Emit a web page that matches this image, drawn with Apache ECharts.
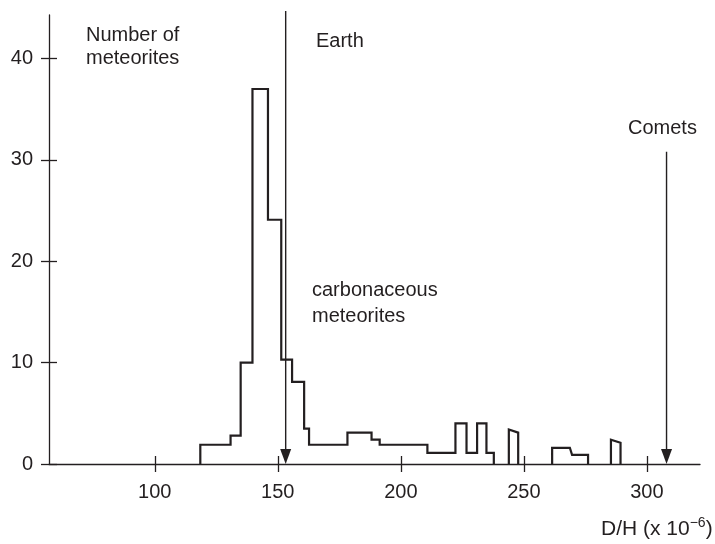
<!DOCTYPE html>
<html>
<head>
<meta charset="utf-8">
<script src="https://cdn.jsdelivr.net/npm/echarts@6/dist/echarts.min.js"></script>
<style>
html,body{margin:0;padding:0;background:#fff;}
#chart{width:715px;height:544px;}
</style>
</head>
<body>
<div id="chart"></div>
<script>
// ---- data ----
const xTicks = [100, 150, 200, 250, 300];
const yTicks = [0, 10, 20, 30, 40];
// histogram bins (D/H x 1e-6): left edge, right edge, count at left edge, count at right edge
const binLeft   = [118.5, 130.8, 134.9, 139.7, 146.0, 151.4, 155.8, 160.7, 162.7, 178.3, 188.1, 191.4, 210.8, 222.2, 226.7, 231.0, 234.8, 243.9, 261.5, 268.7, 269.6, 285.4];
const binRight  = [130.8, 134.9, 139.7, 146.0, 151.4, 155.8, 160.7, 162.7, 178.3, 188.1, 191.4, 210.8, 222.2, 226.7, 231.0, 234.8, 237.8, 247.7, 268.7, 269.6, 276.1, 289.3];
const countLeft = [1.9, 2.8, 10.0, 37.0, 24.1, 10.3, 8.1, 3.5, 1.9, 3.1, 2.4, 1.9, 1.1, 4.0, 1.1, 4.0, 1.1, 3.4, 1.6, 1.6, 0.9, 2.4];
const countRight= [1.9, 2.8, 10.0, 37.0, 24.1, 10.3, 8.1, 3.5, 1.9, 3.1, 2.4, 1.9, 1.1, 4.0, 1.1, 4.0, 1.1, 3.1, 1.6, 0.9, 0.9, 2.1];
// reference markers
const markerNames = ['Earth', 'Comets'];
const markerX     = [153.2, 308.0];
const markerTop   = [44.7, 30.8];

// ---- build outlines (groups of contiguous bins) ----
const groups = [];
let cur = null;
for (let i = 0; i < binLeft.length; i++) {
  if (!cur || Math.abs(binLeft[i] - binRight[i - 1]) > 0.01) {
    if (cur) { cur.push([binRight[i - 1], 0]); groups.push(cur); }
    cur = [[binLeft[i], 0]];
  }
  cur.push([binLeft[i], countLeft[i]]);
  cur.push([binRight[i], countRight[i]]);
}
cur.push([binRight[binRight.length - 1], 0]);
groups.push(cur);

const FONT = "'Liberation Sans', Arial, Helvetica, sans-serif";
const TXT = '#231f20';
const LINE = '#231f20';

const chart = echarts.init(document.getElementById('chart'), null, {renderer: 'canvas'});

const axisCommon = {
  type: 'value',
  splitLine: {show: false},
};

const option = {
  animation: false,
  backgroundColor: '#fff',
  grid: {left: 49, right: 15, top: 15, bottom: 80, outerBoundsMode: 'none'},
  xAxis: [
    Object.assign({}, axisCommon, {
      min: 57, max: 321.6, position: 'bottom',
      axisLine: {show: true, onZero: false, lineStyle: {color: LINE, width: 1.3}},
      axisTick: {show: true, inside: false, length: 8, customValues: xTicks, lineStyle: {color: LINE, width: 1.3}},
      axisLabel: {show: true, customValues: xTicks, margin: 18, fontSize: 20, fontFamily: FONT, color: TXT}
    }),
    Object.assign({}, axisCommon, {
      min: 57, max: 321.6, position: 'bottom', offset: 0,
      axisLine: {show: false},
      axisTick: {show: true, inside: true, length: 8, customValues: xTicks, lineStyle: {color: LINE, width: 1.3}},
      axisLabel: {show: false}
    })
  ],
  yAxis: [
    Object.assign({}, axisCommon, {
      min: 0, max: 44.3, position: 'left',
      axisLine: {show: true, onZero: false, lineStyle: {color: LINE, width: 1.3}},
      axisTick: {show: true, inside: false, length: 8, customValues: yTicks, lineStyle: {color: LINE, width: 1.3}},
      axisLabel: {show: true, customValues: yTicks, margin: 16, fontSize: 20, fontFamily: FONT, color: TXT}
    }),
    Object.assign({}, axisCommon, {
      min: 0, max: 44.3, position: 'left', offset: 0,
      axisLine: {show: false},
      axisTick: {show: true, inside: true, length: 8, customValues: yTicks, lineStyle: {color: LINE, width: 1.3}},
      axisLabel: {show: false}
    })
  ],
  series: [
    {
      type: 'custom',
      name: 'histogram',
      xAxisIndex: 0, yAxisIndex: 0,
      clip: false,
      data: groups.map((g, i) => [i]),
      renderItem: function (params, api) {
        const pts = groups[params.dataIndex].map(p => api.coord(p));
        return {
          type: 'polyline',
          shape: {points: pts},
          style: {stroke: LINE, lineWidth: 2.2, fill: null, lineJoin: 'miter'}
        };
      }
    },
    {
      type: 'custom',
      name: 'markers',
      xAxisIndex: 0, yAxisIndex: 0,
      clip: false,
      data: markerX.map((x, i) => [x, markerTop[i]]),
      renderItem: function (params, api) {
        const top = api.coord([api.value(0), api.value(1)]);
        const tip = api.coord([api.value(0), 0]);
        const h = 15, w = 5.5;
        return {
          type: 'group',
          children: [
            {type: 'line', shape: {x1: top[0], y1: top[1], x2: tip[0], y2: tip[1] - h + 2},
             style: {stroke: LINE, lineWidth: 1.4}},
            {type: 'polygon', shape: {points: [[tip[0] - w, tip[1] - h], [tip[0] + w, tip[1] - h], [tip[0], tip[1]]]},
             style: {fill: LINE, stroke: null}}
          ]
        };
      }
    }
  ],
  graphic: [
    {type: 'text', x: 86, y: 35, style: {text: 'Number of', font: '20px ' + FONT, fill: TXT, verticalAlign: 'middle', align: 'left'}},
    {type: 'text', x: 86, y: 58, style: {text: 'meteorites', font: '20px ' + FONT, fill: TXT, verticalAlign: 'middle', align: 'left'}},
    {type: 'text', x: 316, y: 41, style: {text: markerNames[0], font: '20px ' + FONT, fill: TXT, verticalAlign: 'middle', align: 'left'}},
    {type: 'text', x: 628, y: 128, style: {text: markerNames[1], font: '20px ' + FONT, fill: TXT, verticalAlign: 'middle', align: 'left'}},
    {type: 'text', x: 312, y: 290, style: {text: 'carbonaceous', font: '20px ' + FONT, fill: TXT, verticalAlign: 'middle', align: 'left'}},
    {type: 'text', x: 312, y: 316, style: {text: 'meteorites', font: '20px ' + FONT, fill: TXT, verticalAlign: 'middle', align: 'left'}},
    {type: 'text', x: 601, y: 528, style: {
      text: '{a|D/H (x 10}{s|−6}{a|)}',
      fill: TXT, verticalAlign: 'middle', align: 'left',
      rich: {
        a: {fontSize: 21, fontFamily: FONT, color: TXT, lineHeight: 24, verticalAlign: 'bottom'},
        s: {fontSize: 14, fontFamily: FONT, color: TXT, lineHeight: 14, verticalAlign: 'top'}
      }
    }}
  ]
};
chart.setOption(option);
</script>
</body>
</html>
